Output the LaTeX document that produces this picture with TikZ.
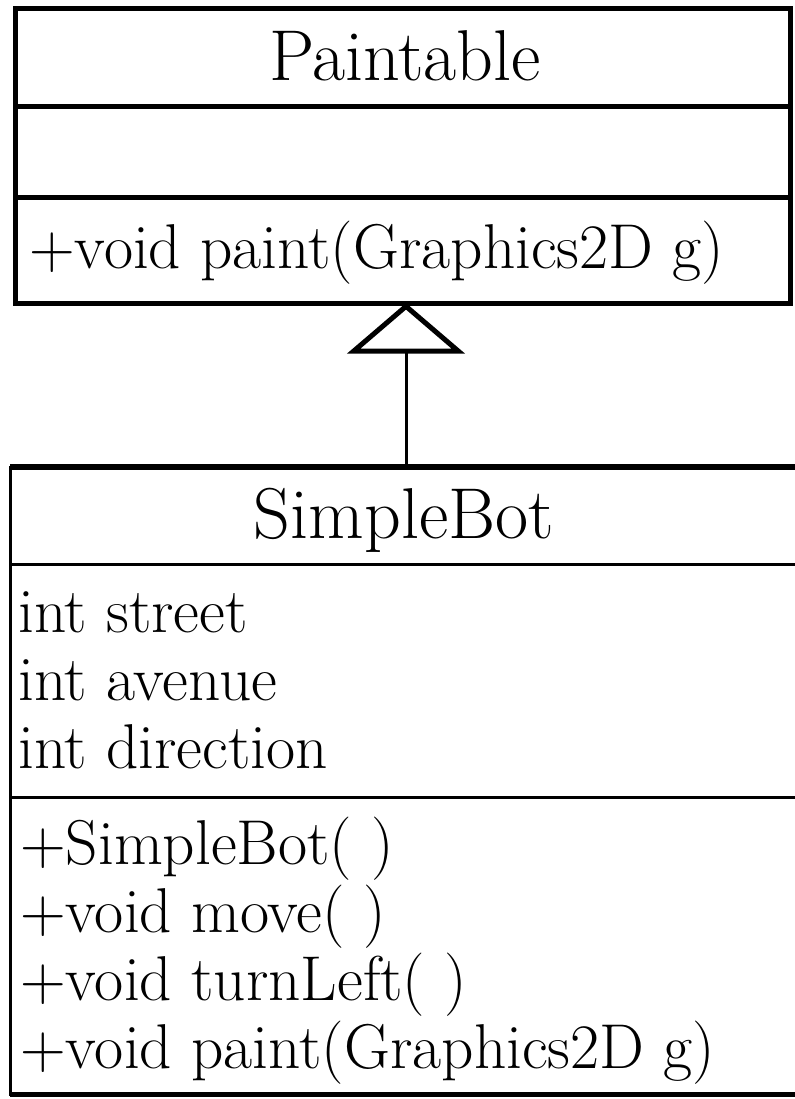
\documentclass[tikz,border=0pt]{standalone}
\usetikzlibrary{arrows.meta}
\usetikzlibrary{positioning}

\begin{document}
\begin{tikzpicture}[x=0.75pt,y=-0.75pt,
	>={Triangle[open,width=88pt,length=38pt,line width=3.75pt]},
	box/.style={draw,inner sep=0pt,outer sep=0pt},
	classname/.style={anchor=base,inner sep=0pt,font=\fontsize{54}{60}\selectfont},
	member/.style={anchor=base west,inner sep=0pt,font=\fontsize{47.5}{52}\selectfont},
	nextline/.style={below=51pt of #1.base west,anchor=base west}]
	\useasboundingbox (0,0) rectangle (794,1099);

	% Paintable
	\node[box,line width=3.75pt,minimum width=581.25pt,minimum height=220.5pt] (pt) at (402.5,156) {};
	\draw[line width=3.75pt] (pt.west |- 0,106) -- (pt.east |- 0,106);
	\draw[line width=3.75pt] (pt.west |- 0,197) -- (pt.east |- 0,197);
	\node[classname] (ptname) at (405,80) {Paintable};
	\node[member] (ptpaint) at (29,268) {+void paint(Graphics2D g)};

	% SimpleBot
	\node[box,line width=2.25pt,minimum width=594pt,minimum height=470.25pt] (sb) at (406,780.5) {};
	\draw[line width=4.5pt] (sb.north west) -- (sb.north east);
	\draw[line width=3.75pt] (sb.south west) -- (sb.south east);
	\draw[line width=2.25pt] (sb.west |- 0,564) -- (sb.east |- 0,564);
	\draw[line width=2.25pt] (sb.west |- 0,797) -- (sb.east |- 0,797);
	\node[classname] (sbname) at (404,538) {SimpleBot};

	\node[member] (street) at (18,632) {int street};
	\node[member,nextline=street] (avenue) {int avenue};
	\node[member,nextline=avenue] (direction) {int direction};

	\node[member] (ctor) at (20,864) {+SimpleBot( )};
	\node[member,nextline=ctor] (move) {+void move( )};
	\node[member,nextline=move] (turn) {+void turnLeft( )};
	\node[member,nextline=turn] (paint) {+void paint(Graphics2D g)};

	% inheritance
	\draw[->,line width=2.25pt] (sb.north) -- (sb.north |- pt.south);
\end{tikzpicture}
\end{document}
